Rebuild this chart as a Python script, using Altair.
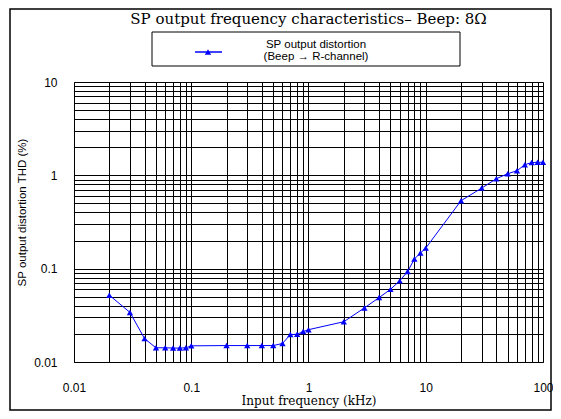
import altair as alt
import pandas as pd

freq_khz = [0.02, 0.03, 0.04, 0.05, 0.06, 0.07, 0.08, 0.09, 0.1, 0.2, 0.3, 0.4, 0.5, 0.6,
            0.7, 0.8, 0.9, 1, 2, 3, 4, 5, 6, 7, 8, 9, 10, 20, 30, 40, 50, 60, 70, 80, 90, 100]
thd_pct = [0.052, 0.034, 0.0178, 0.0142, 0.0142, 0.0141, 0.0141, 0.0142, 0.0149, 0.015, 0.015,
           0.015, 0.015, 0.0158, 0.0197, 0.0198, 0.0212, 0.0222, 0.027, 0.038, 0.049, 0.060,
           0.074, 0.093, 0.127, 0.147, 0.166, 0.535, 0.73, 0.92, 1.04, 1.12, 1.30, 1.37, 1.38, 1.38]

title_text = "SP output frequency characteristics\u2013 Beep: 8\u03a9"
legend_lines = ["SP output distortion", "(Beep \u2192 R-channel)"]
x_title = "Input frequency (kHz)"
y_title = "SP output distortion  THD (%)"

x_grid = [m * 10.0 ** e for e in range(-2, 2) for m in range(1, 10)] + [100]
y_grid = [m * 10.0 ** e for e in range(-2, 1) for m in range(1, 10)] + [10]

df = pd.DataFrame({"f": freq_khz, "thd": thd_pct})
one = pd.DataFrame({"a": [0]})

decade_expr = ("abs(log(datum.value)/LN10 - round(log(datum.value)/LN10)) < 0.001 ? "
               "format(datum.value, '~g') : ''")

x_enc = alt.X("f:Q", scale=alt.Scale(type="log", domain=[0.01, 100], nice=False),
              axis=alt.Axis(values=x_grid, labelExpr=decade_expr, title=x_title,
                            grid=True, gridColor="black", gridOpacity=1, gridWidth=1,
                            ticks=False, domainColor="black", labelFont="Liberation Sans",
                            labelFontSize=12, labelColor="black", labelPadding=20,
                            labelFlush=False, labelOverlap=False,
                            titleFont="DejaVu Serif", titleFontSize=12,
                            titleFontWeight="normal", titleColor="black", titlePadding=2))
y_enc = alt.Y("thd:Q", scale=alt.Scale(type="log", domain=[0.01, 10], nice=False),
              axis=alt.Axis(values=y_grid, labelExpr=decade_expr, title=y_title,
                            grid=True, gridColor="black", gridOpacity=1, gridWidth=1,
                            ticks=False, domainColor="black", labelFont="Liberation Sans",
                            labelFontSize=12, labelColor="black", labelPadding=17,
                            labelFlush=False, labelOverlap=False,
                            titleFont="Liberation Sans", titleFontSize=11.5,
                            titleFontWeight="normal", titleColor="black", titlePadding=6,
                            titleY=130))

line = alt.Chart(df).mark_line(color="#0000ff", strokeWidth=1).encode(x=x_enc, y=y_enc)
pts = alt.Chart(df).mark_point(shape="triangle-up", filled=True, color="#0000ff",
                               size=40, opacity=1).encode(x="f:Q", y="thd:Q")

# outer frame
frame = alt.Chart(one).mark_rect(fill=None, stroke="black", strokeWidth=1.5, clip=False).encode(
    x=alt.value(-64), x2=alt.value(477), y=alt.value(-73), y2=alt.value(328))

# title
title = alt.Chart(one).mark_text(
    text=title_text, font="DejaVu Serif", fontSize=15, align="center",
    baseline="middle", color="black", clip=False).encode(
    x=alt.value(234.5), y=alt.value(-63))

# legend box
leg_box = alt.Chart(one).mark_rect(fill="white", stroke="black", strokeWidth=1, clip=False).encode(
    x=alt.value(78), x2=alt.value(386), y=alt.value(-50), y2=alt.value(-16))
leg_line = alt.Chart(one).mark_rule(color="#0000ff", strokeWidth=1.5, clip=False).encode(
    x=alt.value(121), x2=alt.value(148), y=alt.value(-30))
leg_sym = alt.Chart(one).mark_point(
    shape="triangle-up", filled=True, color="#0000ff", size=40, opacity=1, clip=False).encode(
    x=alt.value(134), y=alt.value(-30))
leg_text = alt.Chart(one).mark_text(
    text=legend_lines, font="Liberation Sans", fontSize=11.5, align="center",
    baseline="middle", lineHeight=12, color="black", clip=False).encode(
    x=alt.value(242), y=alt.value(-37))

chart = alt.layer(line, pts, frame, title, leg_box, leg_line, leg_sym, leg_text).properties(
    width=469, height=280,
    autosize=alt.AutoSizeParams(type="none"),
    padding={"left": 66, "top": 74, "right": 10, "bottom": 49},
).configure_view(stroke="black", strokeWidth=1).configure(background="white")

chart.save("out.html", embed_options={"renderer": "svg", "actions": False})
